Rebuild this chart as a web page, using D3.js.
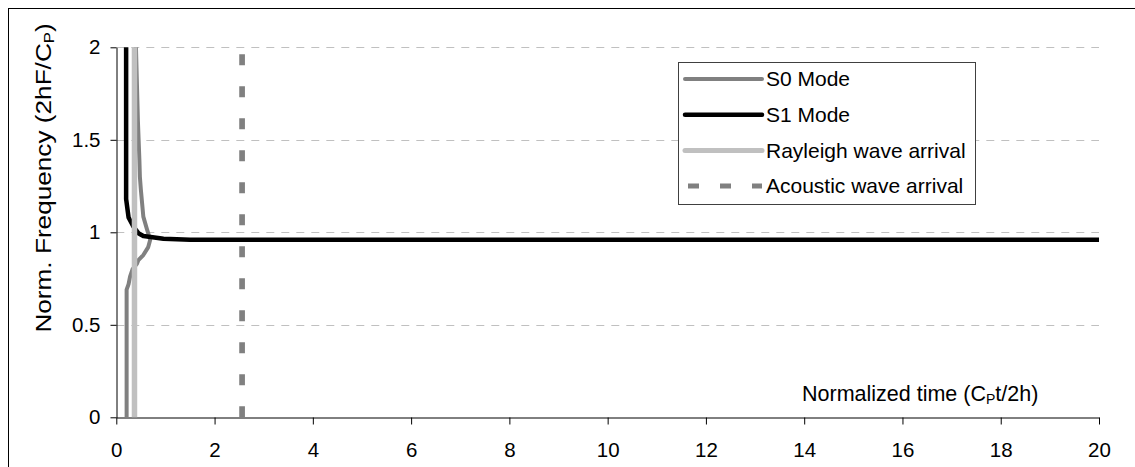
<!DOCTYPE html>
<html><head><meta charset="utf-8">
<script src="https://cdn.jsdelivr.net/npm/d3@7"></script>
<style>body{margin:0;background:#fff}svg{display:block}text{font-family:"Liberation Sans",Arial,sans-serif;fill:#000}</style>
</head><body><svg id="c" width="1135" height="467"></svg>
<script>
// Data (normalized time t, normalized frequency f)
const s0Mode = [[0.21,0],[0.21,0.69],[0.25,0.72],[0.28,0.76],[0.33,0.80],[0.42,0.83],[0.45,0.85],[0.55,0.877],[0.65,0.92],[0.69,0.96],[0.62,1.02],[0.55,1.085],[0.50,1.23],[0.48,1.30],[0.47,1.39],[0.44,1.6],[0.42,1.8],[0.40,2.0]];
const s1Mode = [[0.2,2.0],[0.2,1.18],[0.23,1.12],[0.25,1.08],[0.35,1.03],[0.45,0.995],[0.55,0.98],[0.7,0.975],[0.96,0.965],[1.5,0.96],[20,0.96]];
const rayleighArrival = [[0.37,0],[0.37,2]];
const acousticArrival = [[2.56,0],[2.56,2]];
const xTicks = [0,2,4,6,8,10,12,14,16,18,20];
const yTicks = [0,0.5,1,1.5,2];
const legendLabels = ["S0 Mode","S1 Mode","Rayleigh wave arrival","Acoustic wave arrival"];

const svg = d3.select("#c");
const L=116.3, R=1099, T=47.3, B=417.3;
const x = d3.scaleLinear().domain([0,20]).range([L,R]);
const y = d3.scaleLinear().domain([0,2]).range([B,T]);

// outer frame
svg.append("rect").attr("x",8.5).attr("y",8.5).attr("width",1140).attr("height",470)
  .attr("fill","none").attr("stroke","#000").attr("stroke-width",1);

// gridlines
svg.append("g").selectAll("line").data(yTicks.filter(d=>d>0)).join("line")
  .attr("x1",L).attr("x2",R).attr("y1",d=>Math.round(y(d))+0.5).attr("y2",d=>Math.round(y(d))+0.5)
  .attr("stroke","#c0c0c0").attr("stroke-width",1).attr("stroke-dasharray","8,7");

// axes
const xAxis = svg.append("g").attr("transform",`translate(0,${Math.round(B)+0.5})`)
  .call(d3.axisBottom(x).tickValues(xTicks).tickFormat(d3.format("d")).tickSizeInner(7).tickSizeOuter(0).tickPadding(18));
const yAxis = svg.append("g").attr("transform",`translate(${Math.round(L)+0.5},0)`)
  .call(d3.axisLeft(y).tickValues(yTicks).tickFormat(d=>String(d)).tickSizeInner(6).tickSizeOuter(0).tickPadding(10));
[xAxis,yAxis].forEach(g=>{
  g.select(".domain").attr("stroke","#000");
  g.selectAll(".tick line").attr("stroke","#000");
  g.selectAll("text").style("font-size","20.5px").style("font-family","'Liberation Sans',Arial,sans-serif").attr("fill","#000");
});

const line = d3.line().x(d=>x(d[0])).y(d=>y(d[1]));
const g = svg.append("g");
g.append("path").datum(s0Mode).attr("d",line).attr("fill","none").attr("stroke","#808080").attr("stroke-width",4).attr("stroke-linejoin","round");
g.append("path").datum(s1Mode).attr("d",line).attr("fill","none").attr("stroke","#000").attr("stroke-width",4.5).attr("stroke-linejoin","round");
g.append("path").datum(rayleighArrival).attr("d",line).attr("fill","none").attr("stroke","#c0c0c0").attr("stroke-width",5.5);
g.append("path").datum(acousticArrival).attr("d",line).attr("fill","none").attr("stroke","#808080").attr("stroke-width",5.7).attr("stroke-dasharray","11,21");

// axis titles
const yt = svg.append("text").attr("transform","translate(51,178) rotate(-90) scale(1.19,1)").attr("text-anchor","middle").style("font-size","22px");
yt.append("tspan").text("Norm. Frequency (2hF/C");
yt.append("tspan").text("P").style("font-size","14px").attr("dy",3);
yt.append("tspan").text(")").attr("dy",-3);

const xt = svg.append("text").attr("x",802).attr("y",401).style("font-size","21.5px");
xt.append("tspan").text("Normalized time (C");
xt.append("tspan").text("P").style("font-size","14px").attr("dy",3);
xt.append("tspan").text("t/2h)").attr("dy",-3);

// legend
const lg = svg.append("g");
lg.append("rect").attr("x",678.5).attr("y",62.5).attr("width",297).attr("height",142).attr("fill","#fff").attr("stroke","#404040");
const styles = [
  {c:"#808080",w:4,d:null},
  {c:"#000",w:4.5,d:null},
  {c:"#c0c0c0",w:5,d:null},
  {c:"#808080",w:5,d:"11,21"}
];
legendLabels.forEach((lab,i)=>{
  const cy = 79 + i*35.7;
  const s = styles[i];
  lg.append("line").attr("x1",s.d?688:685).attr("x2",762).attr("y1",cy).attr("y2",cy)
    .attr("stroke",s.c).attr("stroke-width",s.w).attr("stroke-linecap",s.d?"butt":"round").attr("stroke-dasharray",s.d);
  lg.append("text").attr("x",766).attr("y",cy).attr("dy","0.35em").style("font-size","21px").text(lab);
});
</script></body></html>
